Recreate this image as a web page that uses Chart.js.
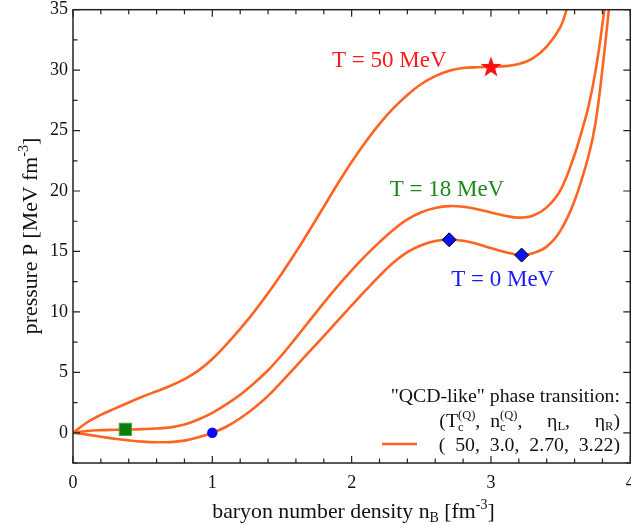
<!DOCTYPE html>
<html>
<head>
<meta charset="utf-8">
<script src="https://cdn.jsdelivr.net/npm/chart.js@4.4.0/dist/chart.umd.min.js"></script>
<style>
  html, body { margin: 0; padding: 0; background: #fff; overflow: hidden; }
  canvas { display: block; }
</style>
</head>
<body>
<canvas id="eosChart" width="640" height="526"></canvas>
<script>
// pressure vs baryon density, three isotherms
const nB50 = [0,0.1,0.2,0.3,0.4,0.5,0.6,0.7,0.8,0.9,1.0,1.1,1.2,1.3,1.4,1.5,1.6,1.7,1.8,1.9,2.0,2.1,2.2,2.3,2.4,2.5,2.6,2.7,2.8,2.9,3.0,3.1,3.2,3.3,3.4,3.5,3.55];
const p50  = [0,0.85,1.48,2.0,2.5,3.0,3.43,3.89,4.44,5.14,6.1,7.3,8.6,10.0,11.55,13.2,14.95,16.8,18.7,20.6,22.4,24.05,25.55,26.85,27.95,28.85,29.5,29.95,30.17,30.24,30.27,30.33,30.5,30.98,31.95,33.6,35.3];

const nB18 = [0,0.1,0.2,0.3,0.4,0.5,0.6,0.7,0.8,0.9,1.0,1.1,1.2,1.3,1.4,1.5,1.6,1.7,1.8,1.9,2.0,2.1,2.2,2.3,2.4,2.5,2.6,2.7,2.8,2.9,3.0,3.1,3.2,3.3,3.4,3.5,3.6,3.65,3.7,3.75,3.8,3.83];
const p18  = [0,0.15,0.22,0.25,0.27,0.3,0.35,0.45,0.68,1.1,1.65,2.35,3.15,4.1,5.17,6.45,7.85,9.3,10.75,12.13,13.43,14.65,15.77,16.8,17.65,18.25,18.6,18.75,18.7,18.5,18.22,17.96,17.8,17.95,18.65,20.1,23.0,24.9,27.0,29.9,33.8,36.5];

const nB0 = [0,0.1,0.2,0.3,0.4,0.5,0.6,0.7,0.8,0.9,1.0,1.1,1.2,1.3,1.4,1.5,1.6,1.7,1.8,1.9,2.0,2.1,2.2,2.3,2.4,2.5,2.6,2.7,2.8,2.9,3.0,3.1,3.22,3.3,3.4,3.5,3.6,3.7,3.75,3.8,3.85];
const p0  = [0,-0.15,-0.33,-0.5,-0.63,-0.73,-0.78,-0.77,-0.65,-0.38,0,0.5,1.2,2.05,3.05,4.25,5.5,6.75,8.0,9.27,10.53,11.78,12.98,14.08,14.95,15.52,15.86,15.97,15.88,15.62,15.28,14.95,14.7,14.85,15.4,16.75,19.2,22.9,25.6,30.1,35.4];

// special points
const starPt    = [3.0, 30.27];         // critical point T=50
const squarePt  = [0.376, 0.28];        // T=18
const circlePt  = [1.0, 0.0];           // T=0 saturation
const diamondX  = [2.70, 3.22];         // eta_L, eta_R
const diamondY  = [15.97, 14.7];

// isotherm labels
const labelText = ['T = 50 MeV', 'T = 18 MeV', 'T = 0 MeV'];
const labelX    = [2.27, 2.684, 3.084];
const labelY    = [30.25, 19.55, 12.15];
const labelCol  = ['#ff1a1a', '#1a8a1a', '#1a1aff'];

const xTicks = [0, 1, 2, 3, 4];
const yTicks = [0, 5, 10, 15, 20, 25, 30, 35];

const ORANGE = '#ff6422';
const SERIF = "'Liberation Serif', 'Times New Roman', serif";

const toXY = (xs, ys) => xs.map((v, i) => ({x: v, y: ys[i]}));

// filled star for the critical point
const starImg = document.createElement('canvas');
starImg.width = 24; starImg.height = 24;
(function() {
    const c = starImg.getContext('2d');
    c.fillStyle = '#ff1010';
    c.beginPath();
    for (let i = 0; i < 10; i++) {
        const r = i % 2 === 0 ? 11 : 4.4;
        const a = -Math.PI / 2 + i * Math.PI / 5;
        c.lineTo(12 + r * Math.cos(a), 12.5 + r * Math.sin(a));
    }
    c.closePath();
    c.fill();
})();

// draw text made of pieces (main / sub / sup / stacked)
function partWidth(ctx, p) {
    ctx.font = p.font;
    if (p.stack) {
        return Math.max(ctx.measureText(p.stack[0]).width, ctx.measureText(p.stack[1]).width);
    }
    return ctx.measureText(p.t).width;
}
function drawRich(ctx, parts, x, y, align) {
    const w = parts.reduce((s, p) => s + partWidth(ctx, p), 0);
    let cx = align === 'right' ? x - w : align === 'center' ? x - w / 2 : x;
    ctx.textAlign = 'left';
    ctx.textBaseline = 'alphabetic';
    parts.forEach(p => {
        const pw = partWidth(ctx, p);
        if (p.stack) {
            ctx.fillText(p.stack[0], cx, y + p.dy[0]);
            ctx.fillText(p.stack[1], cx, y + p.dy[1]);
        } else {
            ctx.fillText(p.t, cx, y + (p.dy || 0));
        }
        cx += pw;
    });
}

const decorations = {
    id: 'decorations',
    afterDatasetsDraw(chart) {
        const {ctx, chartArea: a, scales: {x, y}} = chart;
        ctx.save();

        // frame with inward ticks
        ctx.strokeStyle = '#222';
        ctx.lineWidth = 1.5;
        ctx.strokeRect(a.left, a.top, a.right - a.left, a.bottom - a.top);
        ctx.lineWidth = 1.2;
        ctx.beginPath();
        for (let i = 0; i <= 20; i++) {
            const len = i % 5 === 0 ? 7 : 4.5;
            const px = x.getPixelForValue(i * 0.2);
            ctx.moveTo(px, a.bottom); ctx.lineTo(px, a.bottom - len);
            ctx.moveTo(px, a.top); ctx.lineTo(px, a.top + len);
        }
        for (let i = -1; i <= 14; i++) {
            const len = i % 2 === 0 ? 7 : 4.5;
            const py = y.getPixelForValue(i * 2.5);
            ctx.moveTo(a.left, py); ctx.lineTo(a.left + len, py);
            ctx.moveTo(a.right, py); ctx.lineTo(a.right - len, py);
        }
        ctx.stroke();

        // isotherm labels
        ctx.font = '23px ' + SERIF;
        ctx.textAlign = 'center';
        ctx.textBaseline = 'alphabetic';
        labelText.forEach((t, i) => {
            ctx.fillStyle = labelCol[i];
            ctx.fillText(t, x.getPixelForValue(labelX[i]), y.getPixelForValue(labelY[i]));
        });

        // axis titles
        ctx.fillStyle = '#111';
        const big = '21.8px ' + SERIF, sm = '14px ' + SERIF;
        drawRich(ctx, [
            {t: 'baryon number density n', font: big},
            {t: 'B', font: sm, dy: 4},
            {t: ' [fm', font: big},
            {t: '-3', font: sm, dy: -9},
            {t: ']', font: big}
        ], 353.5, 518, 'center');

        ctx.save();
        ctx.translate(36.5, 236);
        ctx.rotate(-Math.PI / 2);
        drawRich(ctx, [
            {t: 'pressure P [MeV fm', font: big},
            {t: '-3', font: sm, dy: -9},
            {t: ']', font: big}
        ], 0, 0, 'center');
        ctx.restore();

        // legend box
        const lf = '19.8px ' + SERIF, ls = '12.5px ' + SERIF;
        const rx = 620;
        drawRich(ctx, [{t: '"QCD-like" phase transition:', font: lf}], rx, 402, 'right');
        drawRich(ctx, [
            {t: '(T', font: lf},
            {stack: ['c', '(Q)'], font: ls, dy: [4, -8]},
            {t: ',  n', font: lf},
            {stack: ['c', '(Q)'], font: ls, dy: [4, -8]},
            {t: ',     \u03b7', font: lf},
            {t: 'L', font: ls, dy: 3},
            {t: ',     \u03b7', font: lf},
            {t: 'R', font: ls, dy: 3},
            {t: ')', font: lf}
        ], rx, 426.5, 'right');
        drawRich(ctx, [{t: '(  50,  3.0,  2.70,  3.22)', font: lf}], rx, 451, 'right');
        ctx.strokeStyle = ORANGE;
        ctx.lineWidth = 2.6;
        ctx.beginPath();
        ctx.moveTo(382, 444); ctx.lineTo(417, 444);
        ctx.stroke();

        ctx.restore();
    }
};

const lineStyle = {
    type: 'line',
    borderColor: ORANGE,
    borderWidth: 2.6,
    pointRadius: 0,
    fill: false,
    tension: 0.4,
    order: 2
};

new Chart(document.getElementById('eosChart'), {
    type: 'line',
    data: {
        datasets: [
            {type: 'scatter', data: [{x: starPt[0], y: starPt[1]}], pointStyle: starImg, order: 0},
            {type: 'scatter', data: [{x: squarePt[0], y: squarePt[1]}], pointStyle: 'rect', pointRadius: 8.7,
             backgroundColor: '#0a7d0a', borderColor: '#4a9e4a', borderWidth: 1, order: 0},
            {type: 'scatter', data: [{x: circlePt[0], y: circlePt[1]}], pointStyle: 'circle', pointRadius: 5.2,
             backgroundColor: '#0a0aff', borderColor: '#0a0aff', borderWidth: 0, order: 0},
            {type: 'scatter', data: toXY(diamondX, diamondY), pointStyle: 'rectRot', pointRadius: 7,
             backgroundColor: '#1010ff', borderColor: '#000', borderWidth: 1, order: 0},
            Object.assign({data: toXY(nB50, p50)}, lineStyle),
            Object.assign({data: toXY(nB18, p18)}, lineStyle),
            Object.assign({data: toXY(nB0, p0)}, lineStyle)
        ]
    },
    options: {
        responsive: false,
        animation: false,
        events: [],
        layout: {padding: {top: 7, right: 7, left: 0, bottom: 0}},
        plugins: {legend: {display: false}, tooltip: {enabled: false}},
        scales: {
            x: {
                type: 'linear',
                min: 0, max: 4,
                grid: {display: false, drawTicks: false},
                border: {display: false},
                afterBuildTicks: s => { s.ticks = xTicks.map(v => ({value: v})); },
                afterFit: s => { s.height = 63; s.paddingLeft = 0; s.paddingRight = 0; },
                ticks: {font: {family: SERIF, size: 18}, color: '#111', padding: 9, maxRotation: 0, autoSkip: false}
            },
            y: {
                type: 'linear',
                min: -2.5, max: 35,
                grid: {display: false, drawTicks: false},
                border: {display: false},
                afterBuildTicks: s => { s.ticks = yTicks.map(v => ({value: v})); },
                afterFit: s => { s.width = 73; s.paddingTop = 0; s.paddingBottom = 0; },
                ticks: {font: {family: SERIF, size: 18}, color: '#111', padding: 5}
            }
        }
    },
    plugins: [decorations]
});
</script>
</body>
</html>
